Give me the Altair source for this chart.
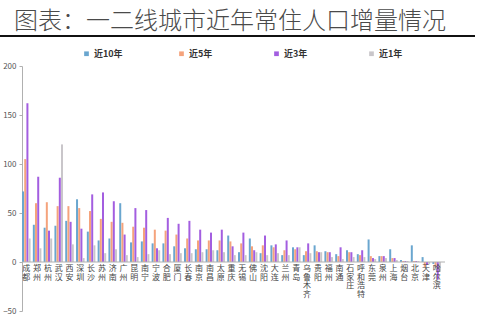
import altair as alt
import pandas as pd

title_text = "图表：一二线城市近年常住人口增量情况"
series = ["近10年", "近5年", "近3年", "近1年"]
colors = ["#6aa6cf", "#f5a37c", "#a35ee0", "#c9c6ca"]

cities = ["成都", "郑州", "杭州", "武汉", "西安", "深圳", "长沙", "苏州", "济南", "广州",
          "昆明", "南宁", "宁波", "合肥", "厦门", "长春", "南京", "南昌", "太原", "重庆",
          "无锡", "佛山", "沈阳", "大连", "兰州", "青岛", "乌鲁木齐", "贵阳", "福州", "南通",
          "石家庄", "呼和浩特", "东莞", "泉州", "上海", "烟台", "北京", "天津", "哈尔滨"]

v10 = [72, 38, 35, 37, 42, 64, 31, 22, 24, 60, 20, 21, 19, 19, 16, 14, 13, 13, 12, 27,
       10, 24, 9, 17, 7, 15, 7, 17, 11, 8, 12, 8, 23, 6, 13, 2, 17, 5, -2]
v5 = [105, 60, 61, 57, 57, 55, 52, 44, 41, 40, 36, 35, 33, 32, 28, 24, 22, 22, 22, 21,
      19, 16, 17, 15, 12, 13, 11, 11, 10, 6, 10, 7, 6, 6, 4, 1, 1, -5, -5]
v3 = [162, 87, 32, 86, 41, 34, 69, 71, 62, 28, 55, 53, 14, 45, 39, 42, 33, 30, 33, 16,
      30, 12, 27, 18, 22, 15, 19, 10, 10, 15, 10, 12, 4, 6, 4, 1, 1, -3, -18]
v1 = [24, 14, 24, 120, 18, 4, 17, 9, 13, 7, 5, 8, 12, 8, 9, 9, 10, 12, 10, 7,
      7, 10, 7, 9, 7, 15, 9, 10, 5, 3, 5, 5, 3, 4, 2, 1, 1, -2, -10]

y_ticks = [-50, 0, 50, 100, 150, 200]

rows = []
for s, vals in zip(series, [v10, v5, v3, v1]):
    for c, v in zip(cities, vals):
        rows.append({"city": c, "series": s, "value": v})
df = pd.DataFrame(rows)

lab = pd.DataFrame({"city": cities, "label": ["\n".join(list(c)) for c in cities], "zero": 0})

W, H = 419, 245
FONT = "Noto Sans CJK SC"

xscale = alt.Scale(domain=cities, paddingInner=0.2, paddingOuter=0.0)
yscale = alt.Scale(domain=[-50, 200], nice=False)

bars = alt.Chart(df).mark_bar(size=2).encode(
    x=alt.X("city:N", scale=xscale, sort=cities, axis=None),
    xOffset=alt.XOffset("series:N", sort=series, scale=alt.Scale(domain=series, paddingInner=0.05)),
    y=alt.Y("value:Q", scale=yscale,
            axis=alt.Axis(values=y_ticks, title=None, grid=False, domainColor="#b0b0b0",
                          tickColor="#b0b0b0", tickSize=3, labelFontSize=8, labelColor="#555",
                          labelFont=FONT, labelPadding=3)),
    color=alt.Color("series:N", sort=series,
                    scale=alt.Scale(domain=series, range=colors),
                    legend=alt.Legend(title=None, orient="none", legendX=60, legendY=-17,
                                      direction="horizontal", columns=4, symbolType="square",
                                      symbolSize=22, labelFontSize=9, labelFontWeight="bold",
                                      labelColor="#333", labelFont=FONT, columnPadding=54,
                                      gridAlign="all", labelOffset=3)),
)

zero_line = alt.Chart(pd.DataFrame({"z": [0]})).mark_rule(color="#b0b0b0", strokeWidth=1).encode(
    y=alt.Y("z:Q", scale=yscale), x=alt.value(0), x2=alt.value(W + 4)
)

labels = alt.Chart(lab).mark_text(
    baseline="top", align="center", fontSize=8, lineBreak="\n", lineHeight=8.6,
    font=FONT, color="#444", dy=3
).encode(
    x=alt.X("city:N", scale=xscale, sort=cities),
    y=alt.Y("zero:Q", scale=yscale),
    text="label:N",
)

underline = alt.Chart(pd.DataFrame({"a": [0]})).mark_rule(color="#111", strokeWidth=2).encode(
    x=alt.value(-22), x2=alt.value(453), y=alt.value(-30)
)

title = alt.Chart(pd.DataFrame({"t": [title_text]})).mark_text(
    align="left", baseline="middle", fontSize=24, font=FONT, fontWeight=300, color="#4a4a4a"
).encode(x=alt.value(-8), y=alt.value(-44), text="t:N")

chart = alt.layer(bars, zero_line, labels, underline, title).properties(
    width=W, height=H,
    autosize=alt.AutoSizeParams(type="none"),
    padding={"left": 22, "top": 66, "right": 59, "bottom": 7},
).configure_view(stroke=None)

chart.save("out.html", embed_options={"renderer": "svg", "actions": False})
